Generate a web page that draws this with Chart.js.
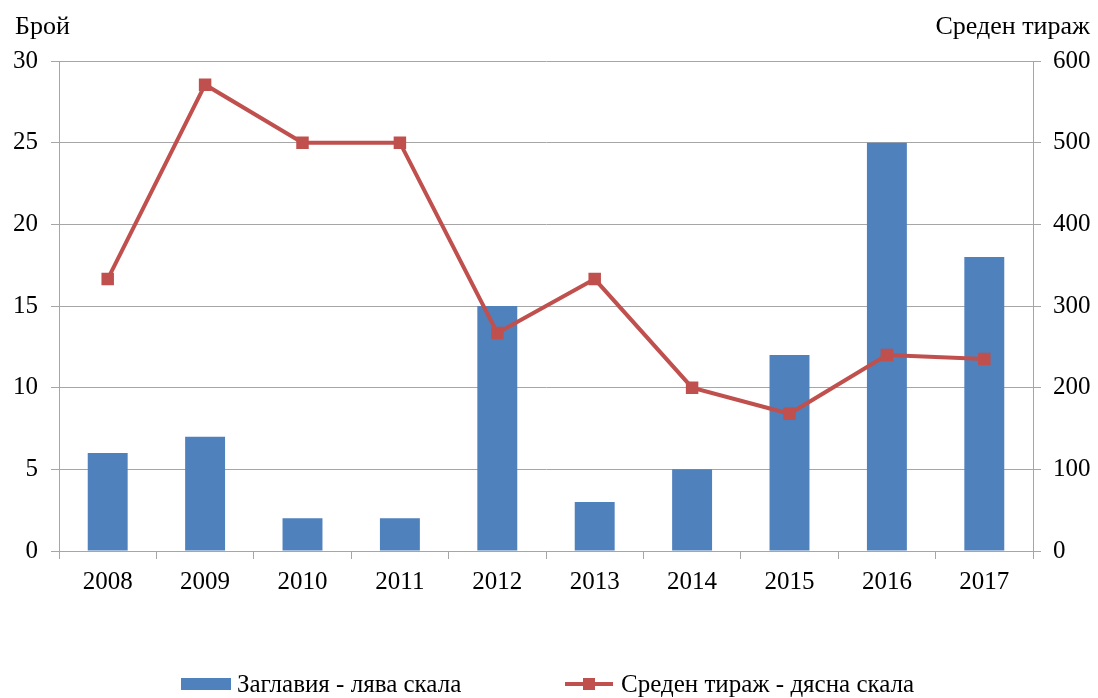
<!DOCTYPE html>
<html>
<head>
<meta charset="utf-8">
<script src="https://cdn.jsdelivr.net/npm/chart.js@4"></script>
<style>
  body { margin: 0; background: #fff; font-family: "Liberation Serif", "Times New Roman", serif; }
  #wrap { position: relative; width: 1098px; height: 698px; }
  .ttl { position: absolute; top: 11px; font-size: 26px; color: #000; }
  #legend { position: absolute; top: 670px; left: 0; width: 1098px; font-size: 25px; color: #000; }
  .item { position: absolute; top: 0; white-space: nowrap; }
  .box { display: inline-block; width: 50px; height: 12px; background: #4f81bd; vertical-align: middle; margin-right: 6px; position: relative; top: -2px; }
  .ln { display: inline-block; width: 48px; height: 4px; background: #c0504d; vertical-align: middle; margin-right: 8px; position: relative; top: -2px; }
  .ln i { position: absolute; left: 18px; top: -4px; width: 12px; height: 12px; background: #c0504d; }
</style>
</head>
<body>
<div id="wrap">
  <canvas id="chart" width="1098" height="698"></canvas>
  <div class="ttl" style="left:15px">Брой</div>
  <div class="ttl" style="right:8px">Среден тираж</div>
  <div id="legend">
    <span class="item" style="left:181px"><span class="box"></span>Заглавия - лява скала</span>
    <span class="item" style="left:565px"><span class="ln"><i></i></span>Среден тираж - дясна скала</span>
  </div>
</div>
<script>
const years = ['2008', '2009', '2010', '2011', '2012', '2013', '2014', '2015', '2016', '2017'];
const titles = [6, 7, 2, 2, 15, 3, 5, 12, 25, 18];
const avgRun = [333, 571, 500, 500, 267, 333, 200, 168, 240, 235];

const gray = '#a6a6a6';
const tickFont = { family: '"Liberation Serif", "Times New Roman", serif', size: 25 };

new Chart(document.getElementById('chart'), {
  data: {
    labels: years,
    datasets: [
      {
        type: 'line',
        label: 'Среден тираж - дясна скала',
        data: avgRun,
        yAxisID: 'y1',
        borderColor: '#c0504d',
        backgroundColor: '#c0504d',
        borderWidth: 4,
        pointStyle: 'rect',
        pointRadius: 6,
        pointHoverRadius: 6,
        tension: 0
      },
      {
        type: 'bar',
        label: 'Заглавия - лява скала',
        data: titles,
        yAxisID: 'y',
        backgroundColor: '#4f81bd',
        barPercentage: 0.41,
        categoryPercentage: 1
      }
    ]
  },
  options: {
    responsive: false,
    animation: false,
    layout: { padding: { top: 61, bottom: 0, left: 0, right: 0 } },
    plugins: { legend: { display: false }, tooltip: { enabled: false } },
    scales: {
      x: {
        offset: true,
        grid: { offset: true, drawOnChartArea: false, color: gray, tickLength: 8 },
        border: { color: gray },
        ticks: { color: '#000', font: tickFont, padding: 8, maxRotation: 0 },
        afterFit: s => { s.height = 147; }
      },
      y: {
        position: 'left',
        min: 0, max: 30,
        ticks: { stepSize: 5, color: '#000', font: tickFont, padding: 13 },
        grid: { color: gray, tickLength: 8 },
        border: { color: gray },
        afterFit: s => { s.width = 59; }
      },
      y1: {
        position: 'right',
        min: 0, max: 600,
        ticks: { stepSize: 100, color: '#000', font: tickFont, padding: 12 },
        grid: { drawOnChartArea: false, color: gray, tickLength: 8 },
        border: { color: gray },
        afterFit: s => { s.width = 65; }
      }
    }
  }
});
</script>
</body>
</html>
